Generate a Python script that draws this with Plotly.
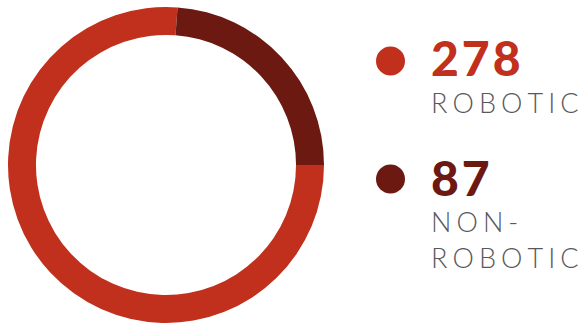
import plotly.graph_objects as go

W, H = 582, 325

categories = ["Robotic", "Non-robotic"]
values = [278, 87]
label_lines = [["ROBOTIC"], ["NON-", "ROBOTIC"]]
colors = ["#c1301c", "#6c1911"]
text_gray = "#59595b"

def px(x):
    return x / W

def py(y):
    return 1 - y / H

fig = go.Figure()
fig.add_trace(go.Pie(
    labels=categories,
    values=values,
    sort=False,
    direction="clockwise",
    rotation=90,
    hole=0.823,
    marker=dict(colors=colors, line=dict(width=0)),
    textinfo="none",
    hoverinfo="skip",
    showlegend=False,
    domain=dict(x=[px(8), px(324)], y=[py(323), py(7)]),
))

def spaced(s, sep):
    return sep.join(s)

annotations = []
shapes = []
num_y = [58, 177]
lab_y = [[102], [222, 257]]
dot_y = [61, 179]
for i in range(2):
    shapes.append(dict(type="circle", xref="paper", yref="paper",
                       x0=px(376), x1=px(405), y0=py(dot_y[i] + 14.5), y1=py(dot_y[i] - 14.5),
                       fillcolor=colors[i], line=dict(width=0)))
    annotations.append(dict(text=spaced(f"{values[i]}", "\u200a"), x=px(429), y=py(num_y[i]),
                            xref="paper", yref="paper",
                            xanchor="left", yanchor="middle", showarrow=False,
                            font=dict(family="Lato", size=48, color=colors[i], weight=900)))
    for line, yy in zip(label_lines[i], lab_y[i]):
        annotations.append(dict(text=spaced(line, "\u2009\u200a"), x=px(429), y=py(yy),
                                xref="paper", yref="paper",
                                xanchor="left", yanchor="middle", showarrow=False,
                                font=dict(family="Lato", size=27, color=text_gray, weight=300)))

fig.update_layout(
    width=W, height=H,
    margin=dict(l=0, r=0, t=0, b=0),
    paper_bgcolor="white", plot_bgcolor="white",
    annotations=annotations, shapes=shapes,
)
fig.write_html("out.html")
